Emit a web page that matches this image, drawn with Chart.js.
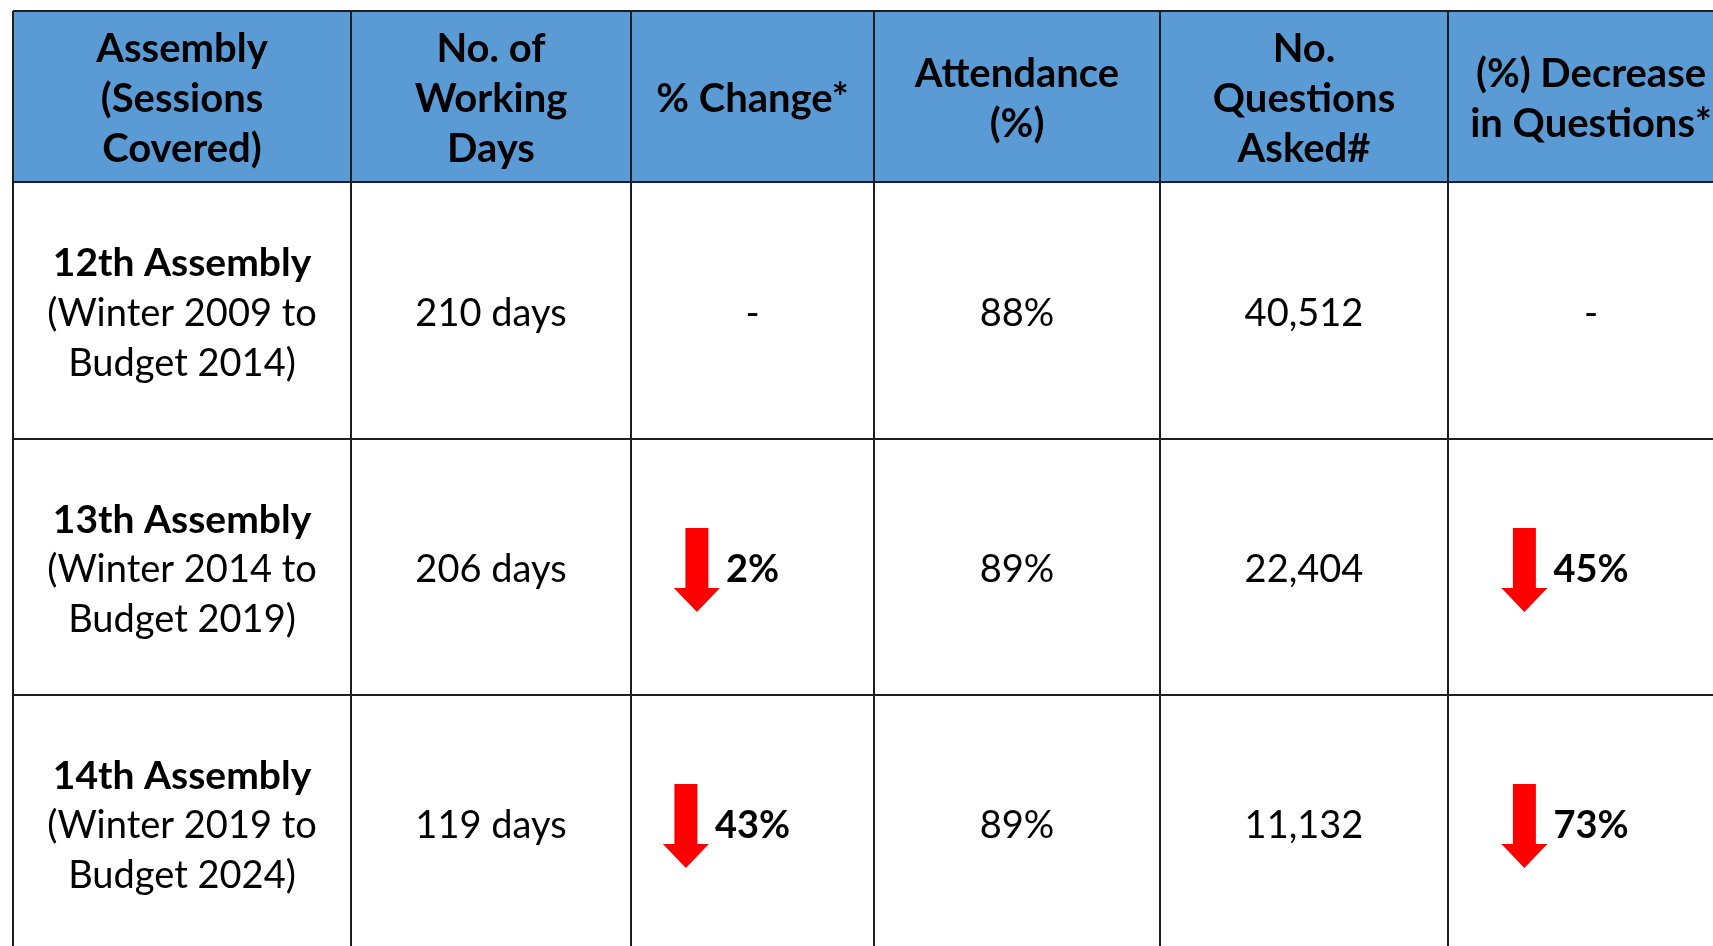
<!DOCTYPE html>
<html lang="en">
<head>
<meta charset="UTF-8">
<title>Assembly Sessions: Working Days and Questions</title>
<script src="https://cdn.jsdelivr.net/npm/chart.js@4.4.1/dist/chart.umd.min.js"></script>
<style>
    html, body { margin: 0; padding: 0; background: #fff; overflow: hidden; }
    canvas { display: block; }
</style>
</head>
<body>
<canvas id="assemblyTable" width="1713" height="946"></canvas>
<script>
// Table data
var headers = [
    ['Assembly', '(Sessions', 'Covered)'],
    ['No. of', 'Working', 'Days'],
    ['% Change*'],
    ['Attendance', '(%)'],
    ['No.', 'Questions', 'Asked#'],
    ['(%) Decrease', 'in Questions*']
];
var assemblies = ['12th Assembly', '13th Assembly', '14th Assembly'];
var sessions = [
    ['(Winter 2009 to', 'Budget 2014)'],
    ['(Winter 2014 to', 'Budget 2019)'],
    ['(Winter 2019 to', 'Budget 2024)']
];
var workingDays = [210, 206, 119];
var daysChange = [null, 2, 43];          // % decrease in working days
var attendance = [88, 89, 89];
var questionsAsked = [40512, 22404, 11132];
var questionsDrop = [null, 45, 73];     // % decrease in questions

// Layout (in scale units, x: 0..1713, y: 0..946 top-down)
var colEdges = [13, 351, 631, 874, 1160, 1448, 1734];
var rowEdges = [11, 182, 439, 695, 951];
var lineGap = 50;
var textShift = 3;
var fontFamily = 'Lato, "Open Sans", sans-serif';

function drawArrow(ctx, cx, top, scaleY) {
    // down arrow: shaft then head
    var shaftW = 23, headW = 46, shaftH = 60 * scaleY, headH = 24 * scaleY;
    ctx.fillStyle = '#ff0000';
    ctx.beginPath();
    ctx.moveTo(cx - shaftW / 2, top);
    ctx.lineTo(cx + shaftW / 2, top);
    ctx.lineTo(cx + shaftW / 2, top + shaftH);
    ctx.lineTo(cx + headW / 2, top + shaftH);
    ctx.lineTo(cx, top + shaftH + headH);
    ctx.lineTo(cx - headW / 2, top + shaftH);
    ctx.lineTo(cx - shaftW / 2, top + shaftH);
    ctx.closePath();
    ctx.fill();
}

var tablePlugin = {
    id: 'tableCells',
    afterDraw: function(chart) {
        var ctx = chart.ctx;
        var xs = chart.scales.x, ys = chart.scales.y;
        var X = function(v) { return xs.getPixelForValue(v); };
        var Y = function(v) { return ys.getPixelForValue(v); };
        var nCols = colEdges.length - 1;
        var pxPerUnit = Y(1) - Y(0);
        var shift = textShift * pxPerUnit;

        ctx.save();

        // header background
        ctx.fillStyle = '#5b9bd5';
        ctx.fillRect(X(colEdges[0]), Y(rowEdges[0]), X(colEdges[nCols]) - X(colEdges[0]), Y(rowEdges[1]) - Y(rowEdges[0]));

        // header text
        ctx.fillStyle = '#000';
        ctx.textAlign = 'center';
        ctx.textBaseline = 'middle';
        ctx.font = 'bold 40px ' + fontFamily;
        var hMid = (Y(rowEdges[0]) + Y(rowEdges[1])) / 2 + shift;
        headers.forEach(function(lines, c) {
            var cx = (X(colEdges[c]) + X(colEdges[c + 1])) / 2;
            lines.forEach(function(t, i) {
                ctx.fillText(t, cx, hMid + (i - (lines.length - 1) / 2) * lineGap * pxPerUnit);
            });
        });

        // body rows
        assemblies.forEach(function(name, r) {
            var mid = (Y(rowEdges[r + 1]) + Y(rowEdges[r + 2])) / 2;
            var tMid = mid + shift;
            var cxs = [];
            for (var c = 0; c < nCols; c++) cxs.push((X(colEdges[c]) + X(colEdges[c + 1])) / 2);

            // assembly name + sessions covered
            var lines = [name].concat(sessions[r]);
            lines.forEach(function(t, i) {
                ctx.font = (i === 0 ? 'bold 39px ' : '38px ') + fontFamily;
                ctx.fillStyle = '#000';
                ctx.fillText(t, cxs[0], tMid + (i - 1) * lineGap * pxPerUnit);
            });

            ctx.font = '38px ' + fontFamily;
            ctx.fillText(workingDays[r] + ' days', cxs[1], tMid);
            ctx.fillText(attendance[r] + '%', cxs[3], tMid);
            ctx.fillText(questionsAsked[r].toLocaleString('en-US'), cxs[4], tMid);

            [[daysChange[r], cxs[2]], [questionsDrop[r], cxs[5]]].forEach(function(cell) {
                var val = cell[0], cx = cell[1];
                ctx.fillStyle = '#000';
                if (val === null) {
                    ctx.font = '38px ' + fontFamily;
                    ctx.fillText('-', cx, tMid);
                    return;
                }
                ctx.font = 'bold 38px ' + fontFamily;
                var label = val + '%';
                ctx.fillText(label, cx, tMid);
                var w = ctx.measureText(label).width;
                drawArrow(ctx, cx - w / 2 - 29, mid - 39 * pxPerUnit, pxPerUnit);
            });
        });

        // grid lines
        ctx.strokeStyle = '#1e1e1e';
        ctx.lineWidth = 2;
        ctx.beginPath();
        colEdges.forEach(function(v) {
            ctx.moveTo(X(v), Y(rowEdges[0]));
            ctx.lineTo(X(v), Y(rowEdges[rowEdges.length - 1]));
        });
        rowEdges.forEach(function(v) {
            ctx.moveTo(X(colEdges[0]), Y(v));
            ctx.lineTo(X(colEdges[nCols]), Y(v));
        });
        ctx.stroke();

        ctx.restore();
    }
};

var ctx = document.getElementById('assemblyTable').getContext('2d');
var assemblyTable = new Chart(ctx, {
    type: 'scatter',
    data: { datasets: [{ data: [] }] },
    options: {
        responsive: false,
        animation: false,
        layout: { padding: 0 },
        plugins: { legend: { display: false }, tooltip: { enabled: false } },
        scales: {
            x: { type: 'linear', min: 0, max: 1713, display: false },
            y: { type: 'linear', min: 0, max: 946, reverse: true, display: false }
        }
    },
    plugins: [tablePlugin]
});
</script>
</body>
</html>
